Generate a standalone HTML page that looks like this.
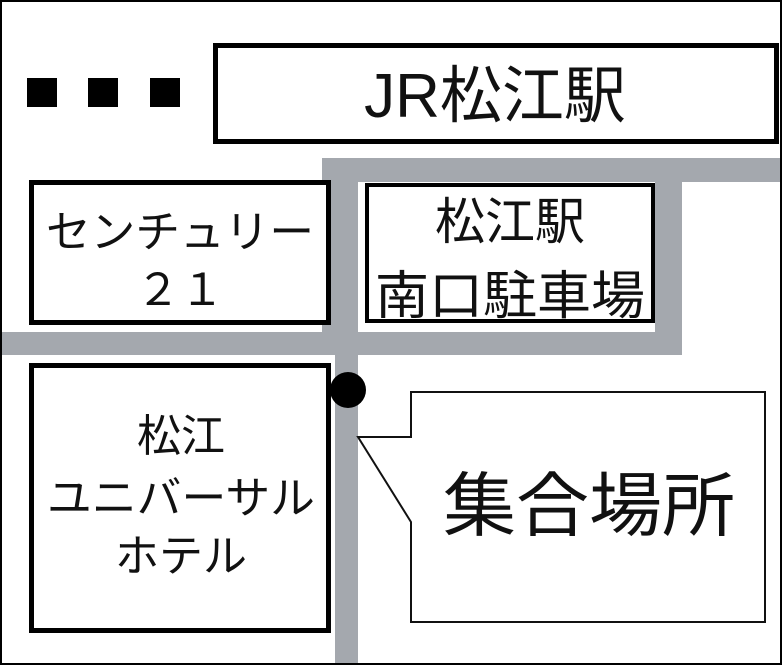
<!DOCTYPE html>
<html><head><meta charset="utf-8"><style>
html,body{margin:0;padding:0;background:#fff}
svg{display:block}
text{font-family:"Liberation Sans","Noto Sans CJK JP",sans-serif;fill:#111}
</style></head><body>
<svg width="782" height="665" viewBox="0 0 782 665" xmlns="http://www.w3.org/2000/svg">
<rect x="0" y="0" width="782" height="665" fill="#fff"/>
<!-- roads -->
<g fill="#a4a8ae">
<rect x="322" y="158" width="460" height="24"/>
<rect x="322" y="158" width="36" height="197"/>
<rect x="655" y="158" width="27" height="197"/>
<rect x="0" y="332" width="682" height="23"/>
<rect x="335" y="332" width="23" height="333"/>
</g>
<!-- squares -->
<g fill="#000">
<rect x="27" y="78" width="30" height="29"/>
<rect x="88" y="78" width="30" height="29"/>
<rect x="150" y="78" width="30" height="29"/>
</g>
<!-- boxes -->
<g fill="#fff" stroke="#000">
<rect x="215.5" y="45.5" width="561" height="96" stroke-width="5"/>
<rect x="31.5" y="182.5" width="297" height="140" stroke-width="5"/>
<rect x="367" y="185" width="286" height="136" stroke-width="4"/>
<rect x="31.5" y="365.5" width="297" height="265" stroke-width="5"/>
</g>
<circle cx="348" cy="390" r="18" fill="#000"/>
<!-- callout -->
<path d="M411,392 H765 V622 H411 V522 L358,437 H411 Z" fill="#fff" stroke="#111" stroke-width="2"/>
<!-- texts -->
<text x="495" y="117" font-size="62" text-anchor="middle">JR松江駅</text>
<text x="180" y="247" font-size="44" text-anchor="middle" textLength="268" lengthAdjust="spacingAndGlyphs">センチュリー</text>
<text x="180" y="305" font-size="44" text-anchor="middle">２１</text>
<text x="510" y="239" font-size="50" text-anchor="middle">松江駅</text>
<text x="510" y="314" font-size="52" text-anchor="middle" textLength="270" lengthAdjust="spacingAndGlyphs">南口駐車場</text>
<text x="181" y="451" font-size="44" text-anchor="middle">松江</text>
<text x="181" y="513" font-size="44" text-anchor="middle" textLength="268" lengthAdjust="spacingAndGlyphs">ユニバーサル</text>
<text x="181" y="571" font-size="44" text-anchor="middle">ホテル</text>
<text x="589" y="530" font-size="70" text-anchor="middle" textLength="292" lengthAdjust="spacingAndGlyphs">集合場所</text>
<!-- outer border -->
<rect x="1" y="1" width="780" height="663" fill="none" stroke="#000" stroke-width="2"/>
</svg>
</body></html>
